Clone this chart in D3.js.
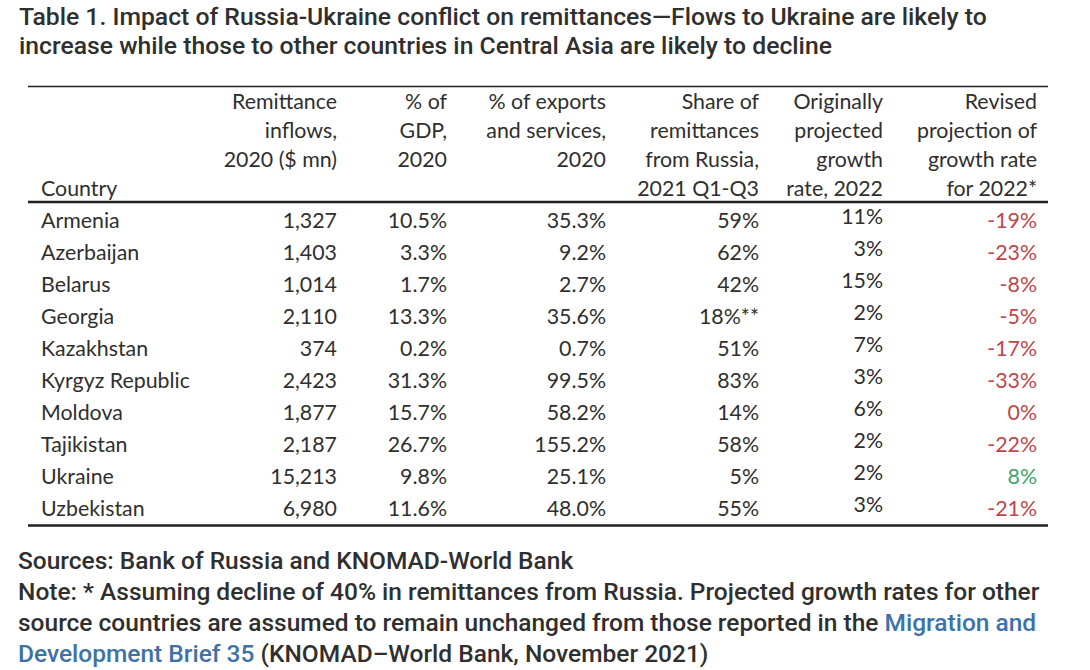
<!DOCTYPE html>
<html><head><meta charset="utf-8">
<script src="https://cdn.jsdelivr.net/npm/d3@7"></script>
<style>body{margin:0;background:#fff}</style>
</head><body><svg id="c" width="1090" height="670"></svg>
<script>
// ---------- data ----------
const countries = ["Armenia","Azerbaijan","Belarus","Georgia","Kazakhstan","Kyrgyz Republic","Moldova","Tajikistan","Ukraine","Uzbekistan"];
const remittanceInflows = [1327,1403,1014,2110,374,2423,1877,2187,15213,6980];
const pctGDP = [10.5,3.3,1.7,13.3,0.2,31.3,15.7,26.7,9.8,11.6];
const pctExports = [35.3,9.2,2.7,35.6,0.7,99.5,58.2,155.2,25.1,48.0];
const shareRussia = [59,62,42,18,51,83,14,58,5,55];
const shareRussiaMark = ["","","","**","","","","","",""];
const origGrowth = [11,3,15,2,7,3,6,2,2,3];
const revisedGrowth = [-19,-23,-8,-5,-17,-33,0,-22,8,-21];

const colHeaders = [
  ["Remittance","inflows,","2020 ($ mn)"],
  ["% of","GDP,","2020"],
  ["% of exports","and services,","2020"],
  ["Share of","remittances","from Russia,","2021 Q1-Q3"],
  ["Originally","projected","growth","rate, 2022"],
  ["Revised","projection of","growth rate","for 2022*"]
];
const countryHeader = "Country";
const titleLines = [
  "Table 1. Impact of Russia-Ukraine conflict on remittances\u2014Flows to Ukraine are likely to",
  "increase while those to other countries in Central Asia are likely to decline"
];
const sourcesLine = "Sources: Bank of Russia and KNOMAD-World Bank";
const noteLines = [
  [{t:"Note: * Assuming decline of 40% in remittances from Russia. Projected growth rates for other"}],
  [{t:"source countries are assumed to remain unchanged from those reported in the "},{t:"Migration and",link:true}],
  [{t:"Development Brief 35",link:true},{t:" (KNOMAD\u2013World Bank, November 2021)"}]
];

// ---------- drawing ----------
const svg = d3.select("#c");
const TXT = "#2f2f2f", RED = "#c0454a", GREEN = "#3aa86b", BLUE = "#3d72a8";
const tableFont = "Lato, 'Liberation Sans', sans-serif";
const titleFont = "Roboto, 'Noto Sans', sans-serif";

function fitSize(str, family, weight, target) {
  const t = svg.append("text").attr("font-family", family).attr("font-weight", weight)
    .attr("font-size", 20).text(str);
  const w = t.node().getComputedTextLength();
  t.remove();
  return 20 * target / w;
}

// Title
const titleSize = fitSize(titleLines[0], titleFont, 500, 968);
svg.selectAll("text.title").data(titleLines).join("text").attr("class","title")
  .attr("x", 19).attr("y", (d,i) => 25 + i*29)
  .attr("font-family", titleFont).attr("font-weight", 500).attr("font-size", titleSize)
  .attr("fill", TXT).text(d => d);

// table geometry
const tableLeft = 28, tableRight = 1048;
const colKeys = ["rem","gdp","exp","rus","orig","rev"];
const x = d3.scaleOrdinal().domain(colKeys).range([337,447,606,759,883,1037]);
const y = d3.scaleBand().domain(countries).range([204,524]);
const tSize = fitSize("Kyrgyz Republic", tableFont, 400, 149);

// rules
svg.append("line").attr("x1",tableLeft).attr("x2",tableRight).attr("y1",86.5).attr("y2",86.5)
  .attr("stroke","#222").attr("stroke-width",1.3);
svg.append("line").attr("x1",tableLeft).attr("x2",tableRight).attr("y1",202).attr("y2",202)
  .attr("stroke","#222").attr("stroke-width",2.4);
svg.append("line").attr("x1",tableLeft).attr("x2",tableRight).attr("y1",525.5).attr("y2",525.5)
  .attr("stroke","#222").attr("stroke-width",2.4);

// headers
const hy = i => 109 + i*29;
colHeaders.forEach((lines, ci) => {
  svg.append("g").selectAll("text").data(lines).join("text")
    .attr("x", x(colKeys[ci])).attr("y", (d,i) => hy(i))
    .attr("text-anchor","end").attr("font-family",tableFont).attr("font-size",tSize)
    .attr("fill",TXT).text(d => d);
});
svg.append("text").attr("x",41).attr("y",hy(3)).attr("font-family",tableFont)
  .attr("font-size",tSize).attr("fill",TXT).text(countryHeader);

// rows
const rows = countries.map((c,i) => ({
  country: c,
  rem: d3.format(",")(remittanceInflows[i]),
  gdp: d3.format(".1f")(pctGDP[i]) + "%",
  exp: d3.format(".1f")(pctExports[i]) + "%",
  rus: shareRussia[i] + "%" + shareRussiaMark[i],
  orig: origGrowth[i] + "%",
  rev: revisedGrowth[i] + "%",
  revVal: revisedGrowth[i]
}));
const base = c => y(c) + y.bandwidth()/2 + 8;
const rowG = svg.append("g").selectAll("g").data(rows).join("g");
rowG.append("text").attr("x",41).attr("y",d => base(d.country))
  .attr("font-family",tableFont).attr("font-size",tSize).attr("fill",TXT).text(d => d.country);
colKeys.forEach(k => {
  rowG.append("text").attr("x", x(k)).attr("y", d => base(d.country) + (k==="orig" ? -4 : 0))
    .attr("text-anchor","end").attr("font-family",tableFont).attr("font-size",tSize)
    .attr("fill", d => k==="rev" ? (d.revVal > 0 ? GREEN : RED) : TXT)
    .text(d => d[k]);
});

// footer
const footSize = fitSize(noteLines[0][0].t, titleFont, 500, 1022);
svg.append("text").attr("x",18).attr("y",569).attr("font-family",titleFont).attr("font-weight",500)
  .attr("font-size",footSize).attr("fill",TXT).text(sourcesLine);
noteLines.forEach((parts, i) => {
  const t = svg.append("text").attr("x",18).attr("y",600 + i*31).attr("font-family",titleFont)
    .attr("font-weight",500).attr("font-size",footSize).attr("fill",TXT);
  t.selectAll("tspan").data(parts).join("tspan").attr("fill", d => d.link ? BLUE : TXT).text(d => d.t);
});
</script></body></html>
